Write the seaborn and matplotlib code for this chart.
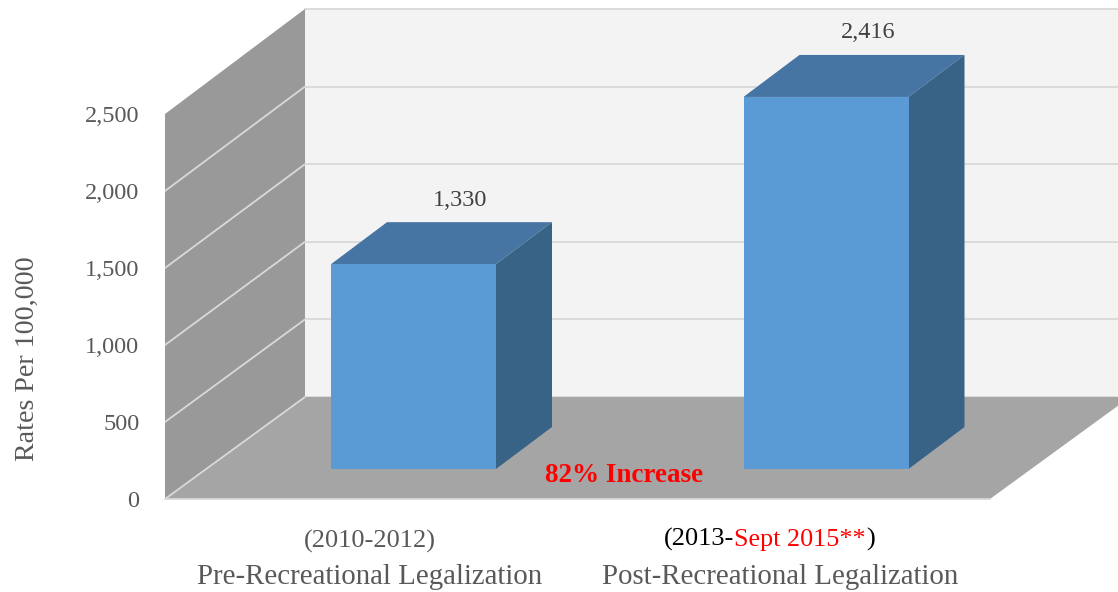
import numpy as np
import pandas as pd
import seaborn as sns
import matplotlib
matplotlib.use("Agg")
import matplotlib.pyplot as plt
from matplotlib.patches import Polygon

periods = ["Pre-Recreational Legalization", "Post-Recreational Legalization"]
rates = [1330, 2416]
y_ticks = [0, 500, 1000, 1500, 2000, 2500]

WIDTH, HEIGHT = 1118, 592
AX_LEFT, AX_BOTTOM = 165, 499   # pixel position of the front corner of the box
PX_PER_X = 412.5                # pixels between the two bars
PX_PER_Y = 0.154                # pixels per rate unit
FIRST_BAR_PX = 413.5

WALL, FLOOR, BACK, GRID = "#999999", "#A5A5A5", "#F3F3F3", "#D9D9D9"
FRONT, TOP, SIDE = "#5B9BD5", "#4674A3", "#386387"
TEXT = "#595959"


def px_w(p):
    return p / PX_PER_X


def px_h(p):
    return p / PX_PER_Y


sns.set_theme(style="white")
plt.rcParams["font.family"] = ["Liberation Serif", "DejaVu Serif"]

df = pd.DataFrame({"period": periods, "rate": rates})

fig = plt.figure(figsize=(WIDTH / 100, HEIGHT / 100), dpi=100)
ax = fig.add_axes([AX_LEFT / WIDTH, (HEIGHT - AX_BOTTOM) / HEIGHT,
                   (WIDTH - AX_LEFT) / WIDTH, AX_BOTTOM / HEIGHT])

box_dx, box_dy = px_w(140), px_h(102)   # depth of the box
bar_dx, bar_dy = px_w(56), px_h(42)     # depth of a bar
lift = px_h(30)                         # bars stand in the middle of the floor
back_scale = 1.008
x0 = -px_w(FIRST_BAR_PX - AX_LEFT)
x1 = x0 + px_w(WIDTH - AX_LEFT)
floor_end = x0 + px_w(990 - AX_LEFT)
y_top = y_ticks[-1]
label_dx = [47, 42]
tick_shift = [44, 46]


def back_y(v):
    return box_dy + v * back_scale


# walls and floor
ax.add_patch(Polygon([(x0 + box_dx, back_y(0)), (x1, back_y(0)), (x1, back_y(y_top)),
                      (x0 + box_dx, back_y(y_top))], fc=BACK, ec="none", zorder=0))
ax.add_patch(Polygon([(x0, 0), (x0 + box_dx, back_y(0)), (x0 + box_dx, back_y(y_top)),
                      (x0, y_top)], fc=WALL, ec="none", zorder=1))
ax.add_patch(Polygon([(x0, 0), (floor_end, 0), (floor_end + box_dx, back_y(0)),
                      (x0 + box_dx, back_y(0))], fc=FLOOR, ec="none", zorder=1))

for v in y_ticks:
    if v < y_top:
        ax.plot([x0, x0 + box_dx], [v, back_y(v)], color=GRID, lw=1.3, zorder=2)
    ax.plot([x0 + box_dx, x1], [back_y(v), back_y(v)], color=GRID, lw=1.3, zorder=0.5)
ax.plot([x0, floor_end], [0, 0], color=GRID, lw=1.3, zorder=2, clip_on=False)

sns.barplot(data=df, x="period", y="rate", ax=ax, color=FRONT, saturation=1,
            width=0.4, bottom=lift, linewidth=0, zorder=4)

for i, v in enumerate(rates):
    left, right = i - 0.2, i + 0.2
    low, high = lift, lift + v
    ax.add_patch(Polygon([(left, high), (right, high), (right + bar_dx, high + bar_dy),
                          (left + bar_dx, high + bar_dy)], fc=TOP, ec="none", zorder=3))
    ax.add_patch(Polygon([(right, low), (right + bar_dx, low + bar_dy),
                          (right + bar_dx, high + bar_dy), (right, high)],
                         fc=SIDE, ec="none", zorder=3))
    ax.text(i + px_w(label_dx[i]), high + bar_dy + px_h(22), f"{v:,}", ha="center", va="center",
            fontsize=17.5, color="#404040", zorder=6)

ax.set_xlim(x0, x1)
ax.set_ylim(0, px_h(AX_BOTTOM))
sns.despine(ax=ax, left=True, bottom=True)
ax.set_facecolor("none")

ax.set_yticks(y_ticks)
ax.set_yticklabels([f"{v:,}" for v in y_ticks])
ax.tick_params(axis="y", length=0, pad=18.5, labelsize=17.5, labelcolor=TEXT)

ax.set_xticks(np.arange(len(periods)) - px_w(np.array(tick_shift)))
ax.set_xticklabels(periods)
ax.tick_params(axis="x", length=0, pad=46.5, labelsize=20.8, labelcolor=TEXT)
ax.set_xlabel("")
ax.set_ylabel("")

fig.text(27 / WIDTH, 1 - 359 / HEIGHT, "Rates Per 100,000", rotation=90, ha="center",
         va="center", fontsize=20.2, color=TEXT)

# upper label lines
fig.text(370 / WIDTH, 1 - 541 / HEIGHT, "(2010-2012)", ha="center", va="center", fontsize=19, color=TEXT)
t = fig.text(664 / WIDTH, 1 - 539 / HEIGHT, "(2013-", ha="left", va="center", fontsize=19, color="black")
t = ax.annotate("Sept 2015**", xy=(1, 0), xycoords=t, va="bottom", fontsize=18.8, color="red")
ax.annotate(")", xy=(1, 0), xycoords=t, va="bottom", fontsize=19, color="black")

ax.text(x0 + px_w(624 - AX_LEFT), px_h(24), "82% Increase", ha="center", va="center",
        fontsize=19.5, fontweight="bold", color="red", zorder=6)

fig.savefig("out.png", dpi=100)
